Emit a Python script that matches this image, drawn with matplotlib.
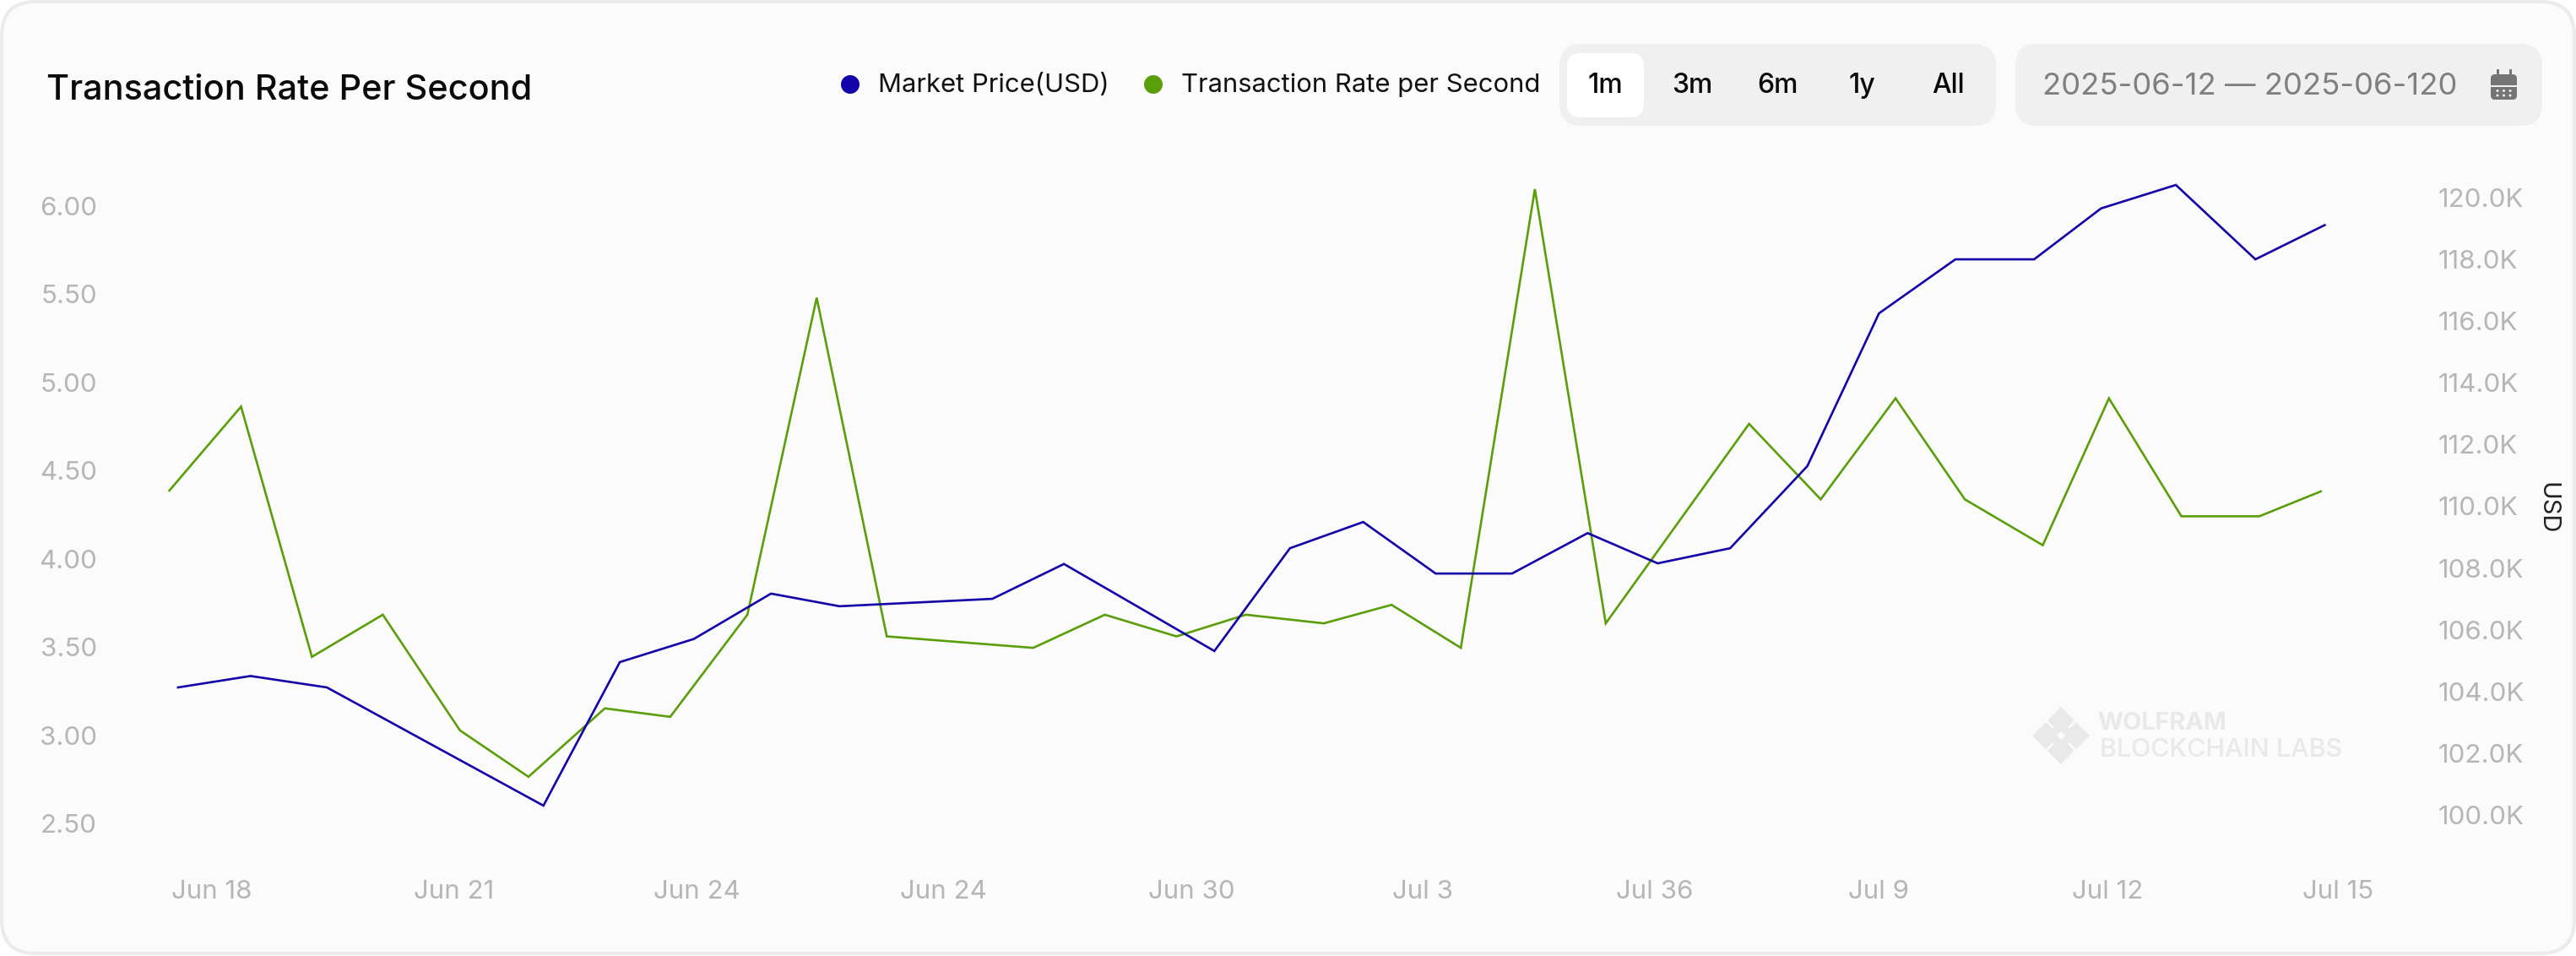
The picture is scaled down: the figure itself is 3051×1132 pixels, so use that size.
import matplotlib
matplotlib.use("Agg")
import matplotlib.pyplot as plt
from matplotlib.patches import FancyBboxPatch, Polygon, Circle, Rectangle

plt.rcParams["font.family"] = ["Inter", "DejaVu Sans"]

# Data (x is days after Jun 18 on the drawn axis)
rate_x = [-0.54, 0.37, 1.27, 2.17, 3.15, 4.02, 4.99, 5.82, 6.80, 7.68, 8.57, 10.43, 11.34, 12.25, 13.13,
          14.12, 14.98, 15.86, 16.80, 17.70, 19.52, 20.43, 21.38, 22.26, 23.25, 24.09, 25.01, 26.00, 26.78]
rate_y = [4.387, 4.863, 3.444, 3.683, 3.027, 2.764, 3.152, 3.104, 3.683, 5.480, 3.560, 3.495, 3.683, 3.560, 3.683,
          3.634, 3.739, 3.495, 6.096, 3.634, 4.765, 4.337, 4.910, 4.337, 4.077, 4.910, 4.241, 4.241, 4.382]
price_x = [-0.43, 0.49, 1.46, 4.21, 5.18, 6.12, 7.10, 7.97, 9.91, 10.82, 12.73, 13.69, 14.62,
           15.54, 16.51, 17.47, 18.36, 19.28, 20.26, 21.17, 22.14, 23.14, 23.99, 24.94, 25.95, 26.83]
price_y = [104.13, 104.50, 104.13, 100.30, 104.95, 105.70, 107.17, 106.76, 107.00, 108.13, 105.31, 108.64, 109.49,
           107.82, 107.82, 109.13, 108.15, 108.64, 111.30, 116.25, 118.00, 118.00, 119.65, 120.41, 118.00, 119.11]

date_ticks = [0, 3.07, 6.16, 9.29, 12.44, 15.38, 18.32, 21.16, 24.07, 27]
date_labels = ["Jun 18", "Jun 21", "Jun 24", "Jun 24", "Jun 30", "Jul 3", "Jul 36", "Jul 9", "Jul 12", "Jul 15"]
rate_ticks = [2.5, 3.0, 3.5, 4.0, 4.5, 5.0, 5.5, 6.0]
rate_labels = ["2.50", "3.00", "3.50", "4.00", "4.50", "5.00", "5.50", "6.00"]
price_ticks = [100, 102, 104, 106, 108, 110, 112, 114, 116, 118, 120]
price_labels = ["100.0K", "102.0K", "104.0K", "106.0K", "108.0K", "110.0K", "112.0K", "114.0K", "116.0K", "118.0K", "120.0K"]
range_labels = ["1m", "3m", "6m", "1y", "All"]

BLUE = "#1403A8"
GREEN = "#5A9E0A"
GREY = "#B6B6B6"
W, H = 3051, 1132

fig = plt.figure(figsize=(W / 100, H / 100), dpi=100, facecolor="white")

# Page layer in pixels: card, header, buttons, watermark
ui = fig.add_axes([0, 0, 1, 1], zorder=0)
ui.set_xlim(0, W)
ui.set_ylim(H, 0)
ui.axis("off")


def pill(x0, y0, x1, y1, r, color, edge="none", lw=0):
    ui.add_patch(FancyBboxPatch((x0 + r, y0 + r), x1 - x0 - 2 * r, y1 - y0 - 2 * r,
                                boxstyle=f"round,pad={r},rounding_size={r}",
                                fc=color, ec=edge, lw=lw))


pill(2, 2, W - 2, H - 3, 40, "#FBFBFB", "#EBEBEB", 3)
pill(1847, 52, 2364, 149, 26, "#F0F0F0")
pill(1856, 63, 1947, 139, 16, "#FFFFFF")
pill(2387, 52, 3011, 149, 26, "#F0F0F0")

ui.text(55, 103, "Transaction Rate Per Second", fontsize=29.8, fontweight=500, color="#0A0A0A", va="center_baseline")

ui.add_patch(Circle((1007, 100), 11, fc=BLUE, ec="none"))
ui.text(1040, 98, "Market Price(USD)", fontsize=22.3, color="#111111", va="center_baseline")
ui.add_patch(Circle((1366, 100), 11, fc=GREEN, ec="none"))
ui.text(1399, 98, "Transaction Rate per Second", fontsize=22.3, color="#111111", va="center_baseline")

for cx, lab in zip([1901, 2004, 2105, 2205, 2308], range_labels):
    ui.text(cx, 98, lab, fontsize=23, fontweight=500, color="#0A0A0A", ha="center", va="center_baseline")

ui.text(2419, 99, "2025-06-12 — 2025-06-120", fontsize=26.3, color="#808080", va="center_baseline")

# calendar icon
ICON = "#757575"
pill(2950, 88, 2981, 118, 5, ICON)
ui.add_patch(Rectangle((2950, 101), 31, 2, fc="#F0F0F0", ec="none"))
for px in [2958, 2973]:
    ui.add_patch(Rectangle((px - 1, 82), 2.5, 7, fc=ICON, ec="none"))
for px in [2958, 2965.5, 2973]:
    for py in [107.5, 113]:
        ui.add_patch(Circle((px, py), 1.5, fc="#F0F0F0", ec="none"))

# watermark
MARK = "#E9E9E9"
for cx, cy, r in [(2441, 853, 16), (2441, 889, 16), (2423, 871, 16), (2459, 871, 16), (2441, 871, 18)]:
    ui.add_patch(Polygon([(cx, cy - r), (cx + r, cy), (cx, cy + r), (cx - r, cy)], fc=MARK, ec="none"))
ui.add_patch(Polygon([(2441, 866), (2446, 871), (2441, 876), (2436, 871)], fc="#FBFBFB", ec="none"))
mark_top = ui.text(2484, 853, "WOLFRAM", fontsize=22, fontweight="bold", color=MARK, va="center_baseline")
# bold Inter comes out narrow here, so size this line from its measured width
top_w = mark_top.get_window_extent(fig.canvas.get_renderer()).width
mark_top.set_fontsize(22 * 153 / top_w)
ui.text(2487, 885, "BLOCKCHAIN LABS", fontsize=21.8, fontweight=500, color=MARK, va="center_baseline")

ui.text(3017, 602, "USD", fontsize=21, color="#222222", rotation=-90, ha="center", va="center")

# Chart
ax = fig.add_axes([180 / W, 1 - 1000 / H, 2620 / W, 800 / H], zorder=1)
ax.patch.set_alpha(0)
ax2 = ax.twinx()
ax2.patch.set_alpha(0)

ax.plot(rate_x, rate_y, color=GREEN, lw=1.9, solid_joinstyle="miter")
ax2.plot(price_x, price_y, color=BLUE, lw=1.9, solid_joinstyle="miter")

ax.set_xlim(-0.761, 27.33)
ax.set_ylim(2.380, 6.2106)
ax2.set_ylim(99.04, 120.93)

ax.set_xticks(date_ticks, date_labels)
ax.set_yticks(rate_ticks, rate_labels)
ax2.set_yticks(price_ticks, price_labels)
ax.tick_params(axis="x", length=0, pad=30, labelsize=22.5, labelcolor=GREY)
ax.tick_params(axis="y", length=0, pad=47, labelsize=22.5, labelcolor=GREY)
ax2.tick_params(axis="y", length=0, pad=63, labelsize=22.5, labelcolor=GREY)

for a in (ax, ax2):
    for s in a.spines.values():
        s.set_visible(False)

plt.savefig("out.png", dpi=100, facecolor=fig.get_facecolor())
plt.close()
